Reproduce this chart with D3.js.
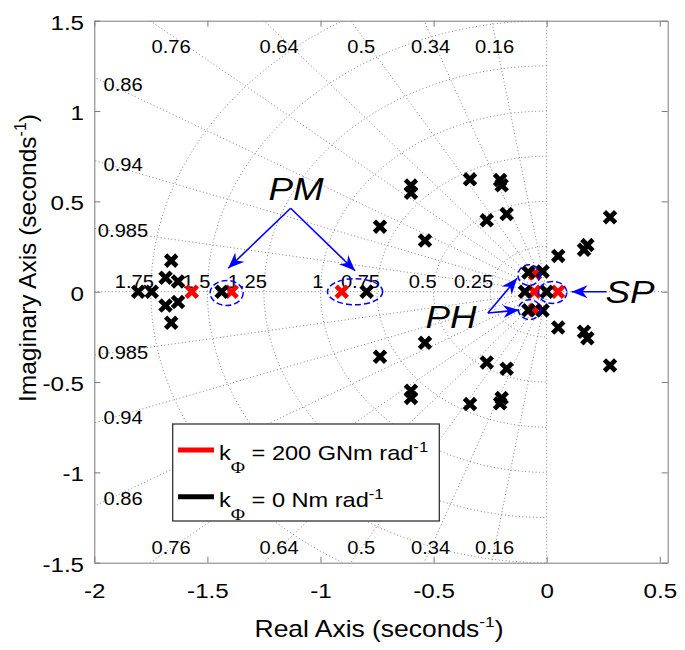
<!DOCTYPE html>
<html><head><meta charset="utf-8">
<script src="https://cdn.jsdelivr.net/npm/d3@7"></script>
<style>
body{margin:0;background:#fff}
text{font-family:"Liberation Sans",Arial,sans-serif}
</style>
</head><body>
<svg id="c" width="685" height="650"></svg>
<script>
// ---------- data ----------
const xDomain = [-2, 0.535];
const yDomain = [-1.5, 1.5];
const xTicks = [-2, -1.5, -1, -0.5, 0, 0.5];
const yTicks = [-1.5, -1, -0.5, 0, 0.5, 1, 1.5];
const dampingValues = [0.16, 0.34, 0.5, 0.64, 0.76, 0.86, 0.94, 0.985];
const dampingEdgeLabels = ["0.16", "0.34", "0.5", "0.64", "0.76"];
const dampingSideLabels = ["0.86", "0.94", "0.985"];
const freqValues = [0.25, 0.5, 0.75, 1, 1.25, 1.5, 1.75];
const freqLabels = ["0.25", "0.5", "0.75", "1", "1.25", "1.5", "1.75"];

// poles, k_phi = 0 (black) [real, imag]
const polesK0 = [
  [-1.806, 0], [-1.746, 0],
  [-1.66, 0.172], [-1.66, -0.172],
  [-1.685, 0.077], [-1.685, -0.077],
  [-1.63, 0.057], [-1.63, -0.057],
  [-1.437, 0], [-0.796, 0],
  [-0.737, 0.36], [-0.737, -0.36],
  [-0.538, 0.283], [-0.538, -0.283],
  [-0.6, 0.588], [-0.6, -0.588],
  [-0.6, 0.548], [-0.6, -0.548],
  [-0.339, 0.622], [-0.339, -0.622],
  [-0.206, 0.618], [-0.206, -0.618],
  [-0.199, 0.589], [-0.199, -0.589],
  [-0.265, 0.395], [-0.265, -0.392],
  [-0.177, 0.43], [-0.177, -0.426],
  [-0.081, 0.106], [-0.081, -0.103],
  [-0.018, 0.112], [-0.018, -0.104],
  [-0.096, 0], [0.0, 0],
  [0.051, 0.198], [0.051, -0.198],
  [0.165, 0.232], [0.165, -0.222],
  [0.18, 0.258], [0.18, -0.258],
  [0.28, 0.412], [0.28, -0.408]
];
// poles, k_phi = 200 GNm/rad (red)
const polesK200 = [
  [-1.569, 0], [-1.393, 0], [-0.906, 0],
  [-0.052, 0.101], [-0.052, -0.101], [-0.055, 0], [0.05, 0]
];

// annotations (data units)
const annoTexts = [
  {t: "PM", x: -1.108, y: 0.508},
  {t: "PH", x: -0.423, y: -0.201},
  {t: "SP", x: 0.368, y: -0.063}
];
const annoArrows = [
  [[-1.132, 0.462], [-1.408, 0.130]],
  [[-1.132, 0.462], [-0.847, 0.116]],
  [[-0.26, -0.118], [-0.131, 0.074]],
  [[-0.26, -0.118], [-0.122, -0.101]],
  [[0.265, 0], [0.11, 0]]
];
const annoEllipses = [
  {cx: -1.415, cy: -0.007, rx: 0.073, ry: 0.069},
  {cx: -0.847, cy: 0.0, rx: 0.122, ry: 0.072},
  {cx: -0.078, cy: 0.092, rx: 0.049, ry: 0.057},
  {cx: -0.076, cy: -0.099, rx: 0.049, ry: 0.055},
  {cx: 0.026, cy: -0.004, rx: 0.063, ry: 0.061}
];
const legendItems = [
  {color: "#ff0000", value: "200 GNm rad"},
  {color: "#000000", value: "0 Nm rad"}
];

// ---------- layout ----------
const SX = 1.15;             // horizontal glyph stretch of the reference
const X0 = 94.3, X1 = 667.7, Y0 = 20.7, Y1 = 562.7;
const svg = d3.select("#c");
const x = d3.scaleLinear().domain(xDomain).range([X0, X1]);
const y = d3.scaleLinear().domain(yDomain).range([Y1, Y0]);
const line = d3.line().x(d => x(d[0])).y(d => y(d[1]));

const defs = svg.append("defs");
defs.append("clipPath").attr("id", "clip").append("rect")
  .attr("x", X0).attr("y", Y0).attr("width", X1 - X0).attr("height", Y1 - Y0);
defs.append("marker").attr("id", "ah").attr("markerUnits", "userSpaceOnUse")
  .attr("viewBox", "-16 -7 17 14").attr("refX", 0).attr("refY", 0)
  .attr("markerWidth", 17).attr("markerHeight", 14).attr("orient", "auto")
  .append("path").attr("d", "M0,0L-16,-6.5L-11,0L-16,6.5Z").attr("fill", "#0000ff");

function txt(g, px, py, s, size, anchor) {
  return g.append("text")
    .attr("transform", `translate(${px},${py}) scale(${SX},1)`)
    .attr("text-anchor", anchor).attr("font-size", size).attr("fill", "#000").text(s);
}

// ---------- grid ----------
const grid = svg.append("g").attr("clip-path", "url(#clip)")
  .attr("fill", "none").attr("stroke", "#808080").attr("stroke-width", 1)
  .attr("stroke-dasharray", "1,2.5");
dampingValues.forEach(z => {
  [1, -1].forEach(s => grid.append("path")
    .attr("d", line([[0, 0], [-z * 3, s * Math.sqrt(1 - z * z) * 3]])));
});
freqValues.forEach(w => {
  grid.append("path").attr("d", line(d3.range(90, 270.1, 1.5)
    .map(a => [w * Math.cos(a * Math.PI / 180), w * Math.sin(a * Math.PI / 180)])));
});
grid.append("path").attr("d", line([[xDomain[0], 0], [xDomain[1], 0]]));
grid.append("path").attr("d", line([[0, yDomain[0]], [0, yDomain[1]]]));

// grid labels
const gl = svg.append("g");
dampingEdgeLabels.forEach(s => {
  const z = +s;
  const xd = -z / Math.sqrt(1 - z * z) * 1.42;
  txt(gl, x(xd), y(1.354) + 6, s, 17.5, "middle");
  txt(gl, x(xd), y(-1.419) + 6, s, 17.5, "middle");
});
dampingSideLabels.forEach(s => {
  const z = +s;
  const yd = Math.sqrt(1 - z * z) / z * 1.93;
  txt(gl, x(-1.873), y(yd) + 6, s, 17.5, "middle");
  txt(gl, x(-1.873), y(-yd) + 6, s, 17.5, "middle");
});
freqLabels.forEach(s => {
  txt(gl, x(-(+s)) + 3, y(0) - 4, s, 17.5, "end");
});

// ---------- axes ----------
function styleAxis(g) {
  g.attr("color", "#7a7a7a").attr("font-size", 21).attr("font-family", "Liberation Sans");
  g.selectAll("text").attr("fill", "#000");
}
const gxb = svg.append("g").attr("transform", `translate(0,${Y1})`)
  .call(d3.axisBottom(x).tickValues(xTicks).tickFormat(d => String(d))
    .tickSizeInner(-6).tickSizeOuter(0).tickPadding(20.5));
styleAxis(gxb);
gxb.selectAll("text").attr("transform", `scale(${SX},1)`);
const gxt = svg.append("g").attr("transform", `translate(0,${Y0})`)
  .call(d3.axisTop(x).tickValues(xTicks).tickFormat(() => "")
    .tickSizeInner(-6).tickSizeOuter(0));
styleAxis(gxt);
const gyl = svg.append("g").attr("transform", `translate(${X0},0)`)
  .call(d3.axisLeft(y).tickValues(yTicks).tickFormat(d => String(d))
    .tickSizeInner(-6).tickSizeOuter(0).tickPadding(10.3));
styleAxis(gyl);
gyl.selectAll("text").attr("x", -10.3 / SX).attr("dy", "0.4em")
  .attr("transform", `scale(${SX},1)`);
const gyr = svg.append("g").attr("transform", `translate(${X1},0)`)
  .call(d3.axisRight(y).tickValues(yTicks).tickFormat(() => "")
    .tickSizeInner(-6).tickSizeOuter(0));
styleAxis(gyr);

// axis titles
const xt = txt(svg, (X0 + X1) / 2 - 2, 637, "", 23, "middle").text(null);
xt.append("tspan").text("Real Axis (seconds");
xt.append("tspan").attr("font-size", 15).attr("dy", -10).text("-1");
xt.append("tspan").attr("dy", 10).text(")");
const yt = svg.append("text").attr("transform", `translate(36,258) rotate(-90)`)
  .attr("text-anchor", "middle").attr("font-size", 24.5).attr("fill", "#000");
yt.append("tspan").text("Imaginary Axis (seconds");
yt.append("tspan").attr("font-size", 16).attr("dy", -10).text("-1");
yt.append("tspan").attr("dy", 10).text(")");

// ---------- poles ----------
const xPath = "M-5.6,-5.6L5.6,5.6M-5.6,5.6L5.6,-5.6";
const pts = svg.append("g").attr("clip-path", "url(#clip)");
pts.selectAll("path.r").data(polesK200).join("path").attr("class", "r")
  .attr("d", xPath).attr("transform", d => `translate(${x(d[0])},${y(d[1])})`)
  .attr("fill", "none").attr("stroke", "#ff0000").attr("stroke-width", 4.7);
pts.selectAll("path.k").data(polesK0).join("path").attr("class", "k")
  .attr("d", xPath).attr("transform", d => `translate(${x(d[0])},${y(d[1])})`)
  .attr("fill", "none").attr("stroke", "#000").attr("stroke-width", 4.7);

// ---------- annotations ----------
const an = svg.append("g");
an.selectAll("ellipse").data(annoEllipses).join("ellipse")
  .attr("cx", d => x(d.cx)).attr("cy", d => y(d.cy))
  .attr("rx", d => x(d.rx) - x(0)).attr("ry", d => y(0) - y(d.ry))
  .attr("fill", "none").attr("stroke", "#0000ff").attr("stroke-width", 1.5)
  .attr("stroke-dasharray", "6,3");
an.selectAll("line").data(annoArrows).join("line")
  .attr("x1", d => x(d[0][0])).attr("y1", d => y(d[0][1]))
  .attr("x2", d => x(d[1][0])).attr("y2", d => y(d[1][1]))
  .attr("stroke", "#0000ff").attr("stroke-width", 1.6).attr("marker-end", "url(#ah)");
annoTexts.forEach(d => {
  txt(an, x(d.x), y(d.y), d.t, 32, "middle").attr("font-style", "italic");
});

// ---------- legend ----------
const lg = svg.append("g");
lg.append("rect").attr("x", 172.7).attr("y", 424).attr("width", 266.6).attr("height", 97)
  .attr("fill", "#fff").attr("stroke", "#333").attr("stroke-width", 1.3);
legendItems.forEach((d, i) => {
  const yy = 450 + i * 46.7;
  lg.append("line").attr("x1", 178).attr("x2", 214).attr("y1", yy).attr("y2", yy)
    .attr("stroke", d.color).attr("stroke-width", 5);
  const t = txt(lg, 219, yy + 10, "", 20.5, "start").text(null);
  t.append("tspan").text("k");
  t.append("tspan").attr("font-family", "Liberation Serif").attr("font-size", 17)
    .attr("dy", 13).text("\u03A6");
  t.append("tspan").attr("dy", -13).text(" = " + d.value);
  t.append("tspan").attr("font-size", 14.5).attr("dy", -8).text("-1");
});
</script>
</body></html>
